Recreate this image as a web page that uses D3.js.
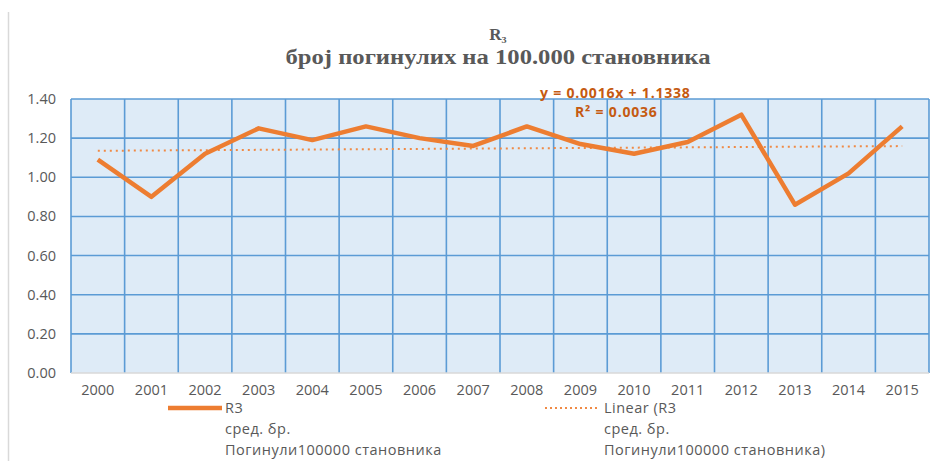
<!DOCTYPE html>
<html lang="sr">
<head>
    <meta charset="UTF-8">
    <title>R3 број погинулих на 100.000 становника</title>
    <style>
        body { margin: 0; background: #fff; }
        .tick-label { font-family: "Open Sans", sans-serif; font-size: 14.5px; fill: #595959; }
        .legend-text { font-family: "Open Sans", sans-serif; font-size: 14.5px; fill: #595959; letter-spacing: 0.5px; }
        .title { font-family: "Liberation Serif", serif; font-weight: bold; fill: #595959; }
        .trend-label { font-family: "Open Sans", sans-serif; font-weight: bold; font-size: 14px; fill: #C55A11; letter-spacing: 0.8px; }
    </style>
</head>
<body>
    <svg id="chart" width="952" height="461"></svg>

    <script src="https://d3js.org/d3.v7.min.js"></script>
    <script>
        // data
        const years = ["2000", "2001", "2002", "2003", "2004", "2005", "2006", "2007",
                       "2008", "2009", "2010", "2011", "2012", "2013", "2014", "2015"];
        const r3Values = [1.09, 0.90, 1.12, 1.25, 1.19, 1.26, 1.20, 1.16,
                          1.26, 1.17, 1.12, 1.18, 1.32, 0.86, 1.02, 1.26];
        const yTicks = [0, 0.2, 0.4, 0.6, 0.8, 1.0, 1.2, 1.4];
        const trendSlope = 0.0016, trendIntercept = 1.1338;
        const trendText = ["y = 0.0016x + 1.1338", "R² = 0.0036"];
        const legendSeries = ["R3", "сред. бр.", "Погинули100000 становника"];
        const legendTrend = ["Linear (R3", "сред. бр.", "Погинули100000 становника)"];

        const svg = d3.select("#chart");
        const plotLeft = 71, plotRight = 929, plotTop = 99, plotBottom = 373;

        const x = d3.scaleBand().domain(years).range([plotLeft, plotRight]).padding(0);
        const y = d3.scaleLinear().domain([0, 1.4]).range([plotBottom, plotTop]);
        const cx = d => x(d) + x.bandwidth() / 2;

        // thin border on the left of the chart box
        svg.append("line")
            .attr("x1", 8.5).attr("x2", 8.5).attr("y1", 12).attr("y2", 461)
            .attr("stroke", "#d9d9d9").attr("stroke-width", 1.5);

        // title
        svg.append("text").attr("class", "title")
            .attr("x", 498).attr("y", 40).attr("text-anchor", "middle")
            .style("font-size", "17px")
            .text("R₃");
        svg.append("text").attr("class", "title")
            .attr("x", 498).attr("y", 64).attr("text-anchor", "middle")
            .style("font-size", "20px")
            .attr("textLength", 425).attr("lengthAdjust", "spacingAndGlyphs")
            .text("број погинулих  на 100.000 становника");

        // plot area
        svg.append("rect")
            .attr("x", plotLeft).attr("y", plotTop)
            .attr("width", plotRight - plotLeft).attr("height", plotBottom - plotTop)
            .attr("fill", "#deebf7");

        // grid
        svg.append("g").selectAll("line")
            .data(yTicks.slice(1))
            .join("line")
            .attr("x1", plotLeft).attr("x2", plotRight)
            .attr("y1", d => y(d)).attr("y2", d => y(d))
            .attr("stroke", "#5b9bd5").attr("stroke-width", 1.6);
        svg.append("g").selectAll("line")
            .data(years.concat(["end"]))
            .join("line")
            .attr("x1", (d, i) => plotLeft + i * x.bandwidth())
            .attr("x2", (d, i) => plotLeft + i * x.bandwidth())
            .attr("y1", plotTop).attr("y2", plotBottom)
            .attr("stroke", "#5b9bd5").attr("stroke-width", 1.6);

        // x axis baseline
        svg.append("line")
            .attr("x1", plotLeft).attr("x2", plotRight)
            .attr("y1", plotBottom).attr("y2", plotBottom)
            .attr("stroke", "#d9d9d9").attr("stroke-width", 1.5);

        // y tick labels
        svg.append("g").selectAll("text")
            .data(yTicks)
            .join("text")
            .attr("class", "tick-label")
            .attr("x", 56).attr("y", d => y(d) + 5)
            .attr("text-anchor", "end")
            .text(d => d.toFixed(2));

        // x tick labels
        svg.append("g").selectAll("text")
            .data(years)
            .join("text")
            .attr("class", "tick-label")
            .attr("x", d => cx(d)).attr("y", 395)
            .attr("text-anchor", "middle")
            .text(d => d);

        // linear trend
        svg.append("path")
            .datum(years)
            .attr("fill", "none")
            .attr("stroke", "#f08a45")
            .attr("stroke-width", 2)
            .attr("stroke-dasharray", "2,4")
            .attr("d", d3.line()
                .x(d => cx(d))
                .y((d, i) => y(trendSlope * (i + 1) + trendIntercept)));

        // series line
        svg.append("path")
            .datum(r3Values)
            .attr("fill", "none")
            .attr("stroke", "#ed7d31")
            .attr("stroke-width", 4.5)
            .attr("stroke-linejoin", "round")
            .attr("d", d3.line()
                .x((d, i) => cx(years[i]))
                .y(d => y(d)));

        // trend equation
        svg.append("g").selectAll("text")
            .data(trendText)
            .join("text")
            .attr("class", "trend-label")
            .attr("x", (d, i) => i === 0 ? 540 : 575)
            .attr("y", (d, i) => 98 + i * 19)
            .text(d => d);

        // legend
        svg.append("line")
            .attr("x1", 168).attr("x2", 222).attr("y1", 408).attr("y2", 408)
            .attr("stroke", "#ed7d31").attr("stroke-width", 4.5);
        svg.append("g").selectAll("text")
            .data(legendSeries)
            .join("text")
            .attr("class", "legend-text")
            .attr("x", 225).attr("y", (d, i) => 413 + i * 21)
            .text(d => d);

        svg.append("line")
            .attr("x1", 545).attr("x2", 597).attr("y1", 408).attr("y2", 408)
            .attr("stroke", "#f08a45").attr("stroke-width", 2)
            .attr("stroke-dasharray", "2,3");
        svg.append("g").selectAll("text")
            .data(legendTrend)
            .join("text")
            .attr("class", "legend-text")
            .attr("x", 604).attr("y", (d, i) => 413 + i * 21)
            .text(d => d);
    </script>
</body>
</html>
